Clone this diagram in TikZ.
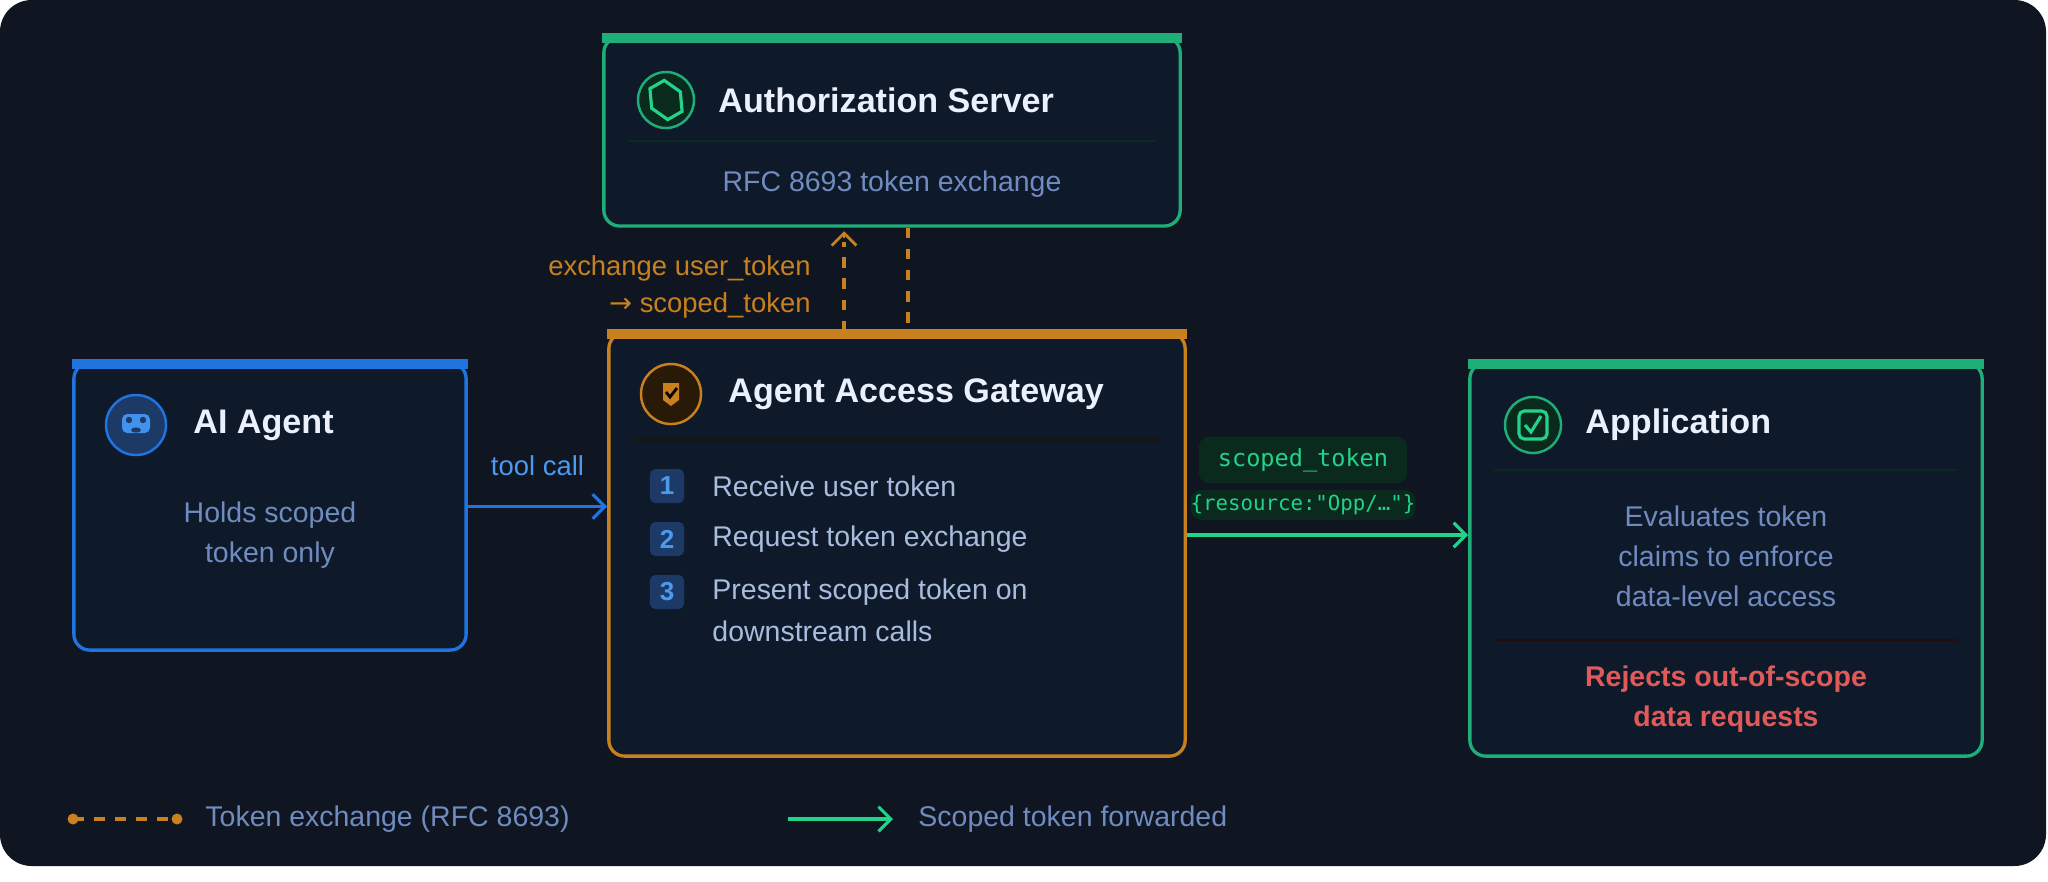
\documentclass[tikz,border=0pt]{standalone}
\usepackage{fontspec}
\setmainfont{Liberation Sans}
\setmonofont{DejaVu Sans Mono}
\newfontfamily\symfont{DejaVu Sans}
\usetikzlibrary{shapes.geometric,arrows.meta,positioning,calc}
\definecolor{panelbg}{HTML}{0F1521}
\definecolor{boxbg}{HTML}{0E192A}
\definecolor{agblue}{HTML}{1F74E0}
\definecolor{gwgold}{HTML}{C8811E}
\definecolor{srvgreen}{HTML}{1FAE78}
\definecolor{arrgreen}{HTML}{22D38A}
\definecolor{titletxt}{HTML}{EAF0FC}
\definecolor{bodytxt}{HTML}{6F8BBF}
\definecolor{steptxt}{HTML}{A9BCDD}
\definecolor{rejred}{HTML}{E05A5A}
\definecolor{badgebg}{HTML}{1D3A66}
\definecolor{badgetxt}{HTML}{4A9AF0}
\definecolor{codebg}{HTML}{0B2A1E}
\tikzset{
  card/.style={draw=#1, line width=0.95pt, fill=boxbg, rounded corners=4.5pt, inner sep=0pt},
  topbar/.style={fill=#1, draw=none},
  ttl/.style={font=\bfseries\fontsize{9.7}{11}\selectfont, text=titletxt, anchor=west},
  body/.style={font=\fontsize{8.1}{10.6}\selectfont, text=bodytxt, align=center},
  stepitem/.style={font=\fontsize{8.1}{10.6}\selectfont, text=steptxt, anchor=west, align=left},
  badge/.style={fill=badgebg, rounded corners=1.5pt, minimum size=0.34cm, inner sep=0pt,
    font=\bfseries\fontsize{7.4}{8}\selectfont, text=badgetxt},
  icon/.style={circle, draw=#1, line width=0.7pt, minimum size=0.56cm, inner sep=0pt},
  sep/.style={line width=0.7pt},
  xchg/.style={draw=gwgold, line width=1pt, dash pattern=on 3pt off 3pt},
  barb/.style={-{Straight Barb[length=3.5pt,width=7pt]}, line width=0.9pt},
}
\begin{document}
\begin{tikzpicture}[x=0.01cm, y=-0.01cm]
  \useasboundingbox (0,0) rectangle (2048,881);
  \fill[white] (0,0) rectangle (2048,881);
  \fill[panelbg, rounded corners=9pt] (0,0) rectangle (2046,866);

  % cards
  \node[card=srvgreen, minimum width=5.76cm, minimum height=1.89cm] (srv) at (892,131.5) {};
  \node[card=gwgold, minimum width=5.76cm, minimum height=4.23cm] (gw) at (897,544.5) {};
  \node[card=agblue, minimum width=3.92cm, minimum height=2.87cm] (agent) at (270,506.5) {};
  \node[card=srvgreen, minimum width=5.12cm, minimum height=3.93cm] (app) at (1726,559.5) {};
  \fill[topbar=srvgreen] ([yshift=0.6pt]srv.north west) rectangle ([yshift=-2.2pt]srv.north east);
  \fill[topbar=gwgold] ([yshift=0.6pt]gw.north west) rectangle ([yshift=-2.2pt]gw.north east);
  \fill[topbar=agblue] ([yshift=0.6pt]agent.north west) rectangle ([yshift=-2.2pt]agent.north east);
  \fill[topbar=srvgreen] ([yshift=0.6pt]app.north west) rectangle ([yshift=-2.2pt]app.north east);

  % authorization server
  \node[icon=srvgreen, fill=codebg] (srvicon) at (666,100) {};
  \node[regular polygon, regular polygon sides=6, rotate=30, draw=arrgreen, line width=0.9pt,
    minimum width=0.33cm, yscale=1.25, inner sep=0pt] at (srvicon) {};
  \node[ttl] (srvttl) at (706,100) {Authorization Server};
  \draw[sep, draw=codebg] (628,141) -- (1156,141);
  \node[body] (srvtxt) at (892,184) {RFC 8693 token exchange};

  % gateway
  \node[icon=gwgold, fill=gwgold!20!black, minimum size=0.6cm] (gwicon) at (671,394) {};
  \fill[gwgold] (663,383) -- (679,383) -- (679,400) -- (671,406) -- (663,400) -- cycle;
  \draw[black, line width=0.8pt] (666,392) -- (670,397) -- (677,388);
  \node[ttl] (gwttl) at (716,394) {Agent Access Gateway};
  \draw[sep, draw=gwgold!15!black] (633,440) -- (1160,440);
  \node[badge] (b1) at (667,486) {1};
  \node[stepitem] (s1) at (700,486) {Receive user token};
  \node[badge] (b2) at (667,539) {2};
  \node[stepitem] (s2) at (700,539) {Request token exchange};
  \node[badge] (b3) at (667,592) {3};
  \node[stepitem, anchor=north west] (s3) at (700,566) {Present scoped token on\\[1.5pt]downstream calls};

  % agent
  \node[icon=agblue, fill=badgebg, minimum size=0.6cm] (agicon) at (136,425) {};
  \fill[badgetxt!80!agblue, rounded corners=1.5pt] (122,414) rectangle (150,433);
  \fill[badgebg] (129,420) circle (3.2) (143,420) circle (3.2);
  \fill[badgebg] (136,430) ellipse (5 and 2.6);
  \node[ttl] (agttl) at (181,425) {AI Agent};
  \node[body] (agtxt) at (270,535) {Holds scoped\\[0.8pt]token only};

  % application
  \node[icon=srvgreen, fill=codebg] (appicon) at (1533,425) {};
  \draw[arrgreen, line width=0.9pt, rounded corners=1.5pt] (1519,411) rectangle (1547,439);
  \draw[arrgreen, line width=0.9pt] (1525,425) -- (1531,432) -- (1541,416);
  \node[ttl] (appttl) at (1573,425) {Application};
  \draw[sep, draw=codebg] (1494,470) -- (1958,470);
  \node[body] (apptxt) at (1726,556) {Evaluates token\\[0.8pt]claims to enforce\\[0.8pt]data-level access};
  \draw[sep, draw=rejred!15!black] (1494,640) -- (1958,640);
  \node[body, text=rejred, font=\bfseries\fontsize{8.1}{10.6}\selectfont] (apprej) at (1726,699)
    {Rejects out-of-scope\\[0.8pt]data requests};

  % connectors
  \draw[barb, agblue] (agent.east) -- (agent.east -| gw.west)
    node[midway, above=5pt, font=\fontsize{7.8}{9}\selectfont, text=badgetxt] (toolcall) {tool call};
  \coordinate (xa) at (844,0);
  \coordinate (xb) at (908,0);
  \coordinate (yg) at (0,535);
  \draw[xchg] (gw.north -| xa) -- ([yshift=-4pt]srv.south -| xa);
  \draw[barb, gwgold, line width=0.8pt] ([yshift=-3pt]srv.south -| xa) -- ([yshift=-1pt]srv.south -| xa);
  \draw[xchg] (srv.south -| xb) -- (gw.north -| xb);
  \node[font=\fontsize{7.8}{9.5}\selectfont, text=gwgold, align=right, anchor=east] (xlbl) at (823,287)
    {exchange user\_token\\[1pt]{\symfont →} scoped\_token};
  \draw[barb, arrgreen] (yg -| gw.east) -- (yg -| app.west);
  \node[fill=codebg, rounded corners=3pt, font=\ttfamily\fontsize{6.7}{9}\selectfont, text=arrgreen,
    minimum width=2.08cm, minimum height=0.34cm] (tok) at (1303,460) {scoped\_token};
  \node[fill=codebg, rounded corners=3pt, font=\ttfamily\fontsize{5.9}{8}\selectfont, text=arrgreen,
    minimum width=2.08cm, minimum height=0.3cm, inner sep=0pt] (res) at (1303,505) {\{resource:"Opp/…"\}};

  % legend
  \coordinate (la) at (73,819);
  \coordinate (lb) at (177,819);
  \draw[xchg, line width=1.3pt] (la) -- (lb);
  \fill[gwgold] (la) circle (5.5) (lb) circle (5.5);
  \node[body, anchor=west] (lg1) at (193,819) {Token exchange (RFC 8693)};
  \coordinate (lc) at (788,819);
  \coordinate (ld) at (893,819);
  \draw[barb, arrgreen] (lc) -- (ld);
  \node[body, anchor=west] (lg2) at (906,819) {Scoped token forwarded};
\end{tikzpicture}
\end{document}
